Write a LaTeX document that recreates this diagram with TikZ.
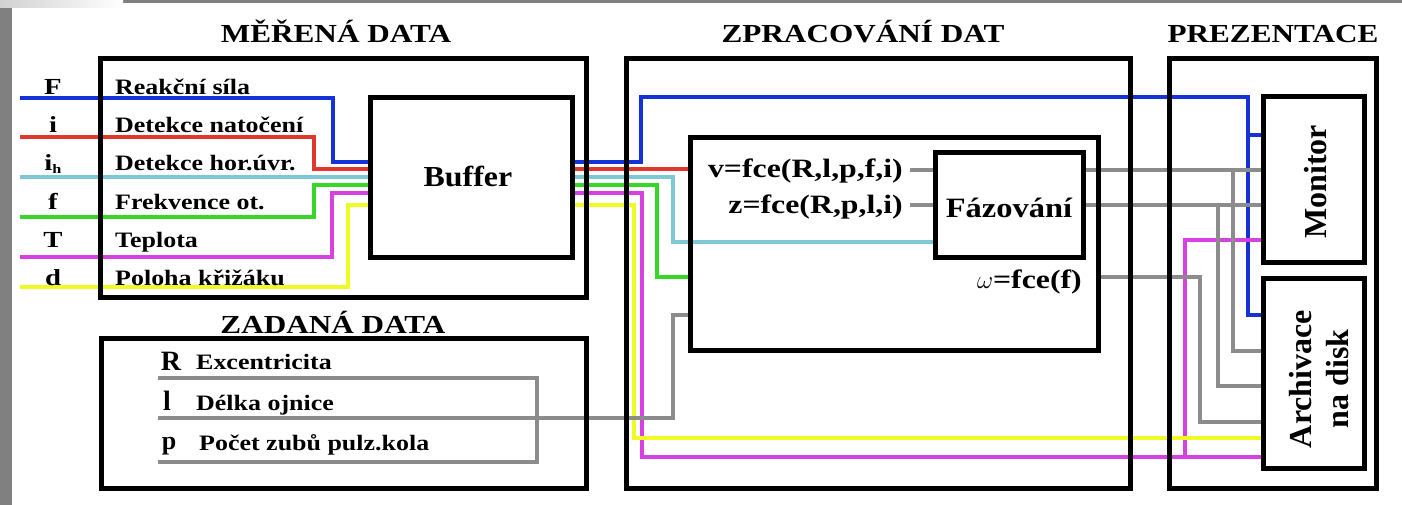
\documentclass[tikz,border=0pt]{standalone}
\usepackage{fontspec}
\setmainfont{Liberation Serif}
\newfontfamily\fHead{Liberation Serif}[FakeStretch=1.2]
\newfontfamily\fLab{Liberation Serif}[FakeStretch=1.18]
\newfontfamily\fSym{Liberation Serif}[FakeStretch=1.25]
\newfontfamily\fMid{Liberation Serif}[FakeStretch=1.2]
\newfontfamily\fFaz{Liberation Serif}[FakeStretch=1.16]
\newfontfamily\fBuf{Liberation Serif}[FakeStretch=1.1]
\usetikzlibrary{calc}
\definecolor{cBlue}{RGB}{20,50,215}
\definecolor{cRed}{RGB}{225,55,45}
\definecolor{cCyan}{RGB}{125,200,210}
\definecolor{cGreen}{RGB}{55,215,40}
\definecolor{cMag}{RGB}{215,65,225}
\definecolor{cYel}{RGB}{240,250,35}
\definecolor{cGray}{RGB}{140,140,140}
\definecolor{edgegray}{RGB}{128,128,128}
\newcommand\fsz[2]{\fontsize{#1}{#2}\selectfont\bfseries}
\tikzset{
  box/.style={draw=none, line width=5pt, inner sep=0pt, outer sep=0pt, anchor=north west},
  sig/.style={line width=4.5pt},
  gsig/.style={line width=4pt, draw=cGray},
  head/.style={font=\fHead\fsz{26}{30}, anchor=base, inner sep=0pt},
  lab/.style={font=\fLab\fsz{22}{25}, anchor=base west, inner sep=0pt},
  sym/.style={font=\fSym\fsz{23}{25}, anchor=base, inner sep=0pt},
  bigsym/.style={font=\fsz{28}{30}, anchor=base, inner sep=0pt},
  mid/.style={font=\fMid\fsz{26.5}{30}, inner sep=0pt},
  rot/.style={font=\fsz{32}{37}, inner sep=0pt, rotate=90, align=center},
}
\begin{document}
\begin{tikzpicture}[x=1pt,y=-1pt]
\useasboundingbox (0,0) rectangle (1402,505);
% page decoration
\fill[edgegray] (0,8) rectangle (12,505);
\fill[edgegray] (123,0) rectangle (1402,3);
\shade[left color=black!18, right color=white] (0,0) rectangle (123,8);

% box nodes (outlines drawn after the connectors)
\path
 node[box, minimum width=486pt, minimum height=238pt] (f1) at (100,59) {}
 node[box, minimum width=485pt, minimum height=150pt] (f2) at (101,338) {}
 node[box, minimum width=504pt, minimum height=429pt] (f3) at (626,59) {}
 node[box, minimum width=207pt, minimum height=429pt] (f4) at (1169,59) {}
 node[box, minimum width=202pt, minimum height=159pt] (buffer) at (370,98) {}
 node[box, minimum width=408pt, minimum height=212pt] (inner) at (690,138) {}
 node[box, minimum width=148pt, minimum height=104pt] (faz) at (935,153) {}
 node[box, minimum width=101pt, minimum height=165pt] (mon) at (1263,97) {}
 node[box, minimum width=101pt, minimum height=190pt] (arch) at (1263,278) {};

% signal lines
\draw[sig,cBlue] (20,98) -| (333,162) -- (buffer.west |- 0,162);
\draw[sig,cBlue] (buffer.east |- 0,162) -| (641,97) -| (1248,315) -- (arch.west |- 0,315);
\draw[sig,cBlue] (1248,135) -- (mon.west |- 0,135);
\draw[sig,cRed] (20,137) -| (314,169) -- (buffer.west |- 0,169);
\draw[sig,cRed] (buffer.east |- 0,169) -- (inner.west |- 0,169);
\draw[sig,cCyan] (20,177) -- (buffer.west |- 0,177);
\draw[sig,cCyan] (buffer.east |- 0,177) -| (673,242) -- (faz.west |- 0,242);
\draw[sig,cGreen] (20,217) -| (314,185) -- (buffer.west |- 0,185);
\draw[sig,cGreen] (buffer.east |- 0,185) -| (657,277) -- (inner.west |- 0,277);
\draw[sig,cMag] (20,257) -| (332,193) -- (buffer.west |- 0,193);
\draw[sig,cMag] (buffer.east |- 0,193) -| (642,457) -- (arch.west |- 0,457);
\draw[sig,cMag] (1185,457) |- (mon.west |- 0,240);
\draw[sig,cYel] (20,287) -| (348,205) -- (buffer.west |- 0,205);
\draw[sig,cYel] (buffer.east |- 0,205) -| (634,438) -- (arch.west |- 0,438);
% gray lines
\draw[gsig] (910,170) -- (faz.west |- 0,170);
\draw[gsig] (910,205) -- (faz.west |- 0,205);
\draw[gsig] (faz.east |- 0,170) -- (mon.west |- 0,170);
\draw[gsig] (1233,170) |- (arch.west |- 0,351);
\draw[gsig] (faz.east |- 0,205) -- (mon.west |- 0,205);
\draw[gsig] (1218,205) |- (arch.west |- 0,386);
\draw[gsig] (inner.east |- 0,277) -| (1200,422) -- (arch.west |- 0,422);
\draw[gsig] (158,378) -| (537,462) -- (158,462);
\draw[gsig] (158,418) -| (673,315) -- (inner.west |- 0,315);

% box outlines on top
\foreach \n in {f1,f2,f3,f4,buffer,inner,faz,mon,arch}
  \draw[line width=5pt] (\n.north west) rectangle (\n.south east);

% headings
\node[head] (h1) at (336,43) {MĚŘENÁ DATA};
\node[head] (h3) at (863,43) {ZPRACOVÁNÍ DAT};
\node[head] (h4) at (1273,43) {PREZENTACE};
\node[head] (h2) at (333,333) {ZADANÁ DATA};

% measured data labels
\node[sym] (sF) at (53,95) {F};
\node[sym] (si) at (53,133) {i};
\node[sym] (sih) at (53,171) {i\raisebox{-3pt}{\fsz{13}{13}h}};
\node[sym] (sf) at (53,209) {f};
\node[sym] (sT) at (53,247) {T};
\node[sym] (sd) at (53,285) {d};
\node[lab] (l1) at (115,95) {Reakční síla};
\node[lab] (l2) at (115,133) {Detekce natočení};
\node[lab] (l3) at (115,171) {Detekce hor.úvr.};
\node[lab] (l4) at (115,209) {Frekvence ot.};
\node[lab] (l5) at (115,247) {Teplota};
\node[lab] (l6) at (115,285) {Poloha křižáku};

% given data
\node[bigsym] (sR) at (171,370) {R};
\node[bigsym] (sl) at (167,410) {l};
\node[bigsym, font=\fsz{26}{28}] (sp) at (169,449) {p};
\node[lab] (z1) at (196,369) {Excentricita};
\node[lab] (z2) at (196,410) {Délka ojnice};
\node[lab] (z3) at (199,450) {Počet zubů pulz.kola};

% processing
\node[inner sep=0pt, font=\fBuf\fsz{29}{32}, anchor=base] (tbuf) at (468,187) {Buffer};
\node[inner sep=0pt, font=\fFaz\fsz{28}{32}, anchor=base] (tfaz) at (1009,218) {Fázování};
\node[mid, anchor=base east] (fv) at (903,178) {v=fce(R,l,p,f,i)};
\node[mid, anchor=base east] (fz) at (903,213) {z=fce(R,p,l,i)};
\node[mid, anchor=base east] (fw) at (1082,288) {$\omega$=fce(f)};

% presentation
\node[rot] (tmon) at (1316,182) {Monitor};
\node[rot] (tarch) at (1319,379) {Archivace\\na disk};
\end{tikzpicture}
\end{document}
